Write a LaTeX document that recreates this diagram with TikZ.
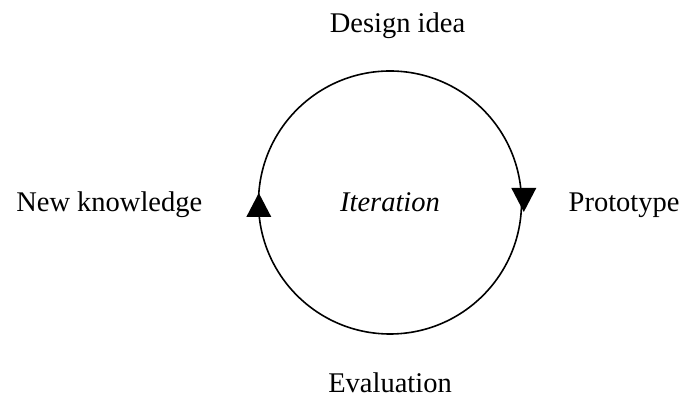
\documentclass[tikz,border=0pt]{standalone}
\usepackage{fontspec}
\setmainfont{Liberation Serif}
\usetikzlibrary{positioning}
\usetikzlibrary{shapes,arrows}

\begin{document}
\begin{tikzpicture}[x=1pt, y=1pt,
    stage/.style={font=\fontsize{28.5}{34}\selectfont, inner sep=0pt}]
    \useasboundingbox (0,0) rectangle (681,398);

    \node [draw, circle, line width=1.6pt, minimum size=263pt, inner sep=0pt, outer sep=0pt] (cycle) at (390,195.5) {};
    \node [stage, anchor=base] (iter) at ([shift={(0,-9.2)}]cycle.center) {\itshape Iteration};

    \node [stage, anchor=base] (design) at ([shift={(7.5,38)}]cycle.north) {Design idea};
    \node [stage, anchor=base west] (proto) at ([shift={(47,-9.2)}]cycle.east) {Prototype};
    \node [stage, anchor=base] (eval) at ([shift={(0,-59)}]cycle.south) {Evaluation};
    \node [stage, anchor=base east] (knowledge) at ([shift={(-56,-9.2)}]cycle.west) {New knowledge};

    % arrow heads on the circle
    \fill ([shift={(0.3,9.5)}]cycle.west) -- ++(-12.5,-24) -- ++(25,0) -- cycle;
    \fill ([shift={(2.3,-9.5)}]cycle.east) -- ++(-12.5,24) -- ++(25,0) -- cycle;
\end{tikzpicture}
\end{document}
